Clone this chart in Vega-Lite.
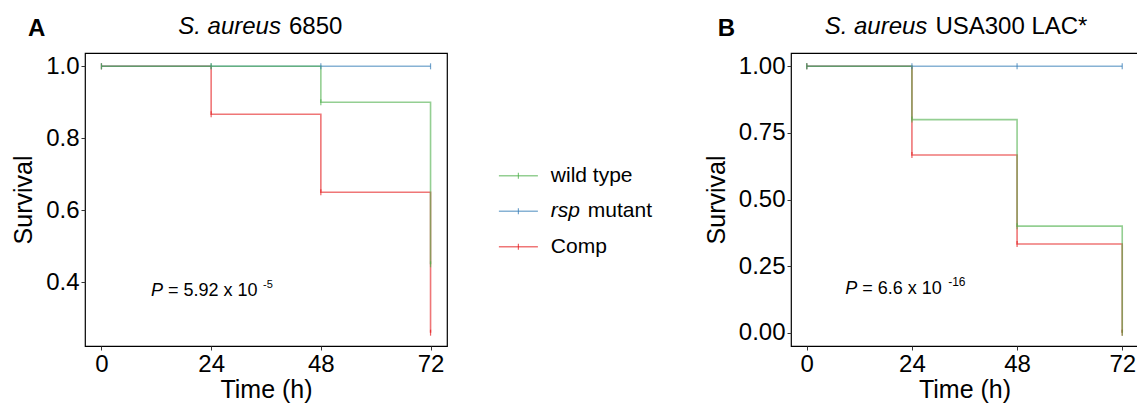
{
  "$schema": "https://vega.github.io/schema/vega-lite/v6.json",
  "padding": {"left": 11, "top": 14, "right": 0, "bottom": 0},
  "spacing": 10,
  "config": {
    "font": "Liberation Sans",
    "view": {"stroke": "#000", "strokeWidth": 1.2},
    "axis": {"grid": false, "domain": false, "tickColor": "#333", "tickSize": 4, "labelFontSize": 24, "labelColor": "#000", "titleFontSize": 25, "titleFontWeight": "normal", "titleColor": "#000", "labelPadding": 2}
  },
  "datasets": {
    "km": [
      {"panel": "A", "series": "Comp", "time": 0, "survival": 1},
      {"panel": "A", "series": "Comp", "time": 24, "survival": 0.867},
      {"panel": "A", "series": "Comp", "time": 48, "survival": 0.65},
      {"panel": "A", "series": "Comp", "time": 72, "survival": 0.26},
      {"panel": "A", "series": "rsp mutant", "time": 0, "survival": 1},
      {"panel": "A", "series": "rsp mutant", "time": 24, "survival": 1},
      {"panel": "A", "series": "rsp mutant", "time": 48, "survival": 1},
      {"panel": "A", "series": "rsp mutant", "time": 72, "survival": 1},
      {"panel": "A", "series": "wild type", "time": 0, "survival": 1},
      {"panel": "A", "series": "wild type", "time": 24, "survival": 1},
      {"panel": "A", "series": "wild type", "time": 48, "survival": 0.9},
      {"panel": "A", "series": "wild type", "time": 72, "survival": 0.45},
      {"panel": "B", "series": "Comp", "time": 0, "survival": 1},
      {"panel": "B", "series": "Comp", "time": 24, "survival": 0.667},
      {"panel": "B", "series": "Comp", "time": 48, "survival": 0.333},
      {"panel": "B", "series": "Comp", "time": 72, "survival": 0},
      {"panel": "B", "series": "rsp mutant", "time": 0, "survival": 1},
      {"panel": "B", "series": "rsp mutant", "time": 24, "survival": 1},
      {"panel": "B", "series": "rsp mutant", "time": 48, "survival": 1},
      {"panel": "B", "series": "rsp mutant", "time": 72, "survival": 1},
      {"panel": "B", "series": "wild type", "time": 0, "survival": 1},
      {"panel": "B", "series": "wild type", "time": 24, "survival": 0.8},
      {"panel": "B", "series": "wild type", "time": 48, "survival": 0.4},
      {"panel": "B", "series": "wild type", "time": 72, "survival": 0}
    ],
    "legend": [
      {"series": "wild type", "italic": "", "plain": "wild type"},
      {"series": "rsp mutant", "italic": "rsp", "plain": "mutant"},
      {"series": "Comp", "italic": "", "plain": "Comp"}
    ]
  },
  "hconcat": [
    {
      "width": 362,
      "height": 293,
      "data": {"name": "km"},
      "transform": [{"filter": "datum.panel === 'A'"}],
      "layer": [
        {
          "mark": {"type": "line", "interpolate": "step-after", "strokeWidth": 1.6, "opacity": 0.6},
          "encoding": {
            "x": {"field": "time", "type": "quantitative", "scale": {"domain": [-3.6, 75.6], "nice": false, "zero": false}, "axis": {"values": [0, 24, 48, 72], "title": "Time (h)", "titlePadding": 1}},
            "y": {"field": "survival", "type": "quantitative", "scale": {"domain": [0.223, 1.037], "nice": false, "zero": false}, "axis": {"values": [0.4, 0.6, 0.8, 1.0], "format": ".1f", "title": "Survival", "titlePadding": 9}},
            "color": {"field": "series", "type": "nominal", "scale": {"domain": ["wild type", "rsp mutant", "Comp"], "range": ["#4daf4a", "#377eb8", "#e41a1c"]}, "legend": null}
          }
        },
        {
          "mark": {"type": "tick", "orient": "vertical", "size": 6, "thickness": 1.2},
          "encoding": {
            "x": {"field": "time", "type": "quantitative"},
            "y": {"field": "survival", "type": "quantitative"},
            "color": {"field": "series", "type": "nominal", "legend": null}
          }
        },
        {
          "data": {"values": [{"t": "A"}]},
          "mark": {"type": "text", "align": "left", "baseline": "alphabetic", "fontSize": 24, "fontWeight": "bold", "clip": false},
          "encoding": {"x": {"datum": -16.07, "type": "quantitative"}, "y": {"datum": 1.085, "type": "quantitative"}, "text": {"field": "t"}}
        },
        {
          "data": {"values": [{"t": "S. aureus"}]},
          "mark": {"type": "text", "align": "right", "baseline": "alphabetic", "fontSize": 24, "fontStyle": "italic", "dx": -4, "clip": false},
          "encoding": {"x": {"datum": 40.15, "type": "quantitative"}, "y": {"datum": 1.0906, "type": "quantitative"}, "text": {"field": "t"}}
        },
        {
          "data": {"values": [{"t": "6850"}]},
          "mark": {"type": "text", "align": "left", "baseline": "alphabetic", "fontSize": 24, "dx": 4, "clip": false},
          "encoding": {"x": {"datum": 40.15, "type": "quantitative"}, "y": {"datum": 1.0906, "type": "quantitative"}, "text": {"field": "t"}}
        },
        {
          "data": {"values": [{"t": "P"}]},
          "mark": {"type": "text", "align": "left", "baseline": "alphabetic", "fontSize": 18, "fontStyle": "italic"},
          "encoding": {"x": {"datum": 10.84, "type": "quantitative"}, "y": {"datum": 0.3628, "type": "quantitative"}, "text": {"field": "t"}}
        },
        {
          "data": {"values": [{"t": "= 5.92 x 10"}]},
          "mark": {"type": "text", "align": "left", "baseline": "alphabetic", "fontSize": 18, "dx": 17},
          "encoding": {"x": {"datum": 10.84, "type": "quantitative"}, "y": {"datum": 0.3628, "type": "quantitative"}, "text": {"field": "t"}}
        },
        {
          "data": {"values": [{"t": "-5"}]},
          "mark": {"type": "text", "align": "left", "baseline": "alphabetic", "fontSize": 11, "dx": 112, "dy": -8},
          "encoding": {"x": {"datum": 10.84, "type": "quantitative"}, "y": {"datum": 0.3628, "type": "quantitative"}, "text": {"field": "t"}}
        }
      ]
    },
    {
      "width": 235,
      "height": 293,
      "view": {"stroke": null},
      "data": {"name": "legend"},
      "encoding": {
        "y": {"field": "series", "type": "nominal", "scale": {"type": "point", "domain": ["wild type", "rsp mutant", "Comp"], "range": [122.7, 193.7], "padding": 0}, "axis": null}
      },
      "layer": [
        {
          "mark": {"type": "rule", "strokeWidth": 1.6, "opacity": 0.6},
          "encoding": {
            "x": {"datum": 0.174, "type": "quantitative", "scale": {"domain": [0, 1], "nice": false, "zero": false}, "axis": null},
            "x2": {"datum": 0.34},
            "color": {"field": "series", "type": "nominal", "scale": {"domain": ["wild type", "rsp mutant", "Comp"], "range": ["#4daf4a", "#377eb8", "#e41a1c"]}, "legend": null}
          }
        },
        {
          "mark": {"type": "tick", "orient": "vertical", "size": 6, "thickness": 1.2},
          "encoding": {
            "x": {"datum": 0.257, "type": "quantitative"},
            "color": {"field": "series", "type": "nominal", "legend": null}
          }
        },
        {
          "mark": {"type": "text", "align": "left", "baseline": "middle", "fontSize": 21, "fontStyle": "italic"},
          "encoding": {"x": {"datum": 0.395, "type": "quantitative"}, "text": {"field": "italic"}}
        },
        {
          "transform": [{"filter": "datum.italic === ''"}],
          "mark": {"type": "text", "align": "left", "baseline": "middle", "fontSize": 21},
          "encoding": {"x": {"datum": 0.395, "type": "quantitative"}, "text": {"field": "plain"}}
        },
        {
          "transform": [{"filter": "datum.italic !== ''"}],
          "mark": {"type": "text", "align": "left", "baseline": "middle", "fontSize": 21, "dx": 37},
          "encoding": {"x": {"datum": 0.395, "type": "quantitative"}, "text": {"field": "plain"}}
        }
      ]
    },
    {
      "width": 347,
      "height": 293,
      "data": {"name": "km"},
      "transform": [{"filter": "datum.panel === 'B'"}],
      "layer": [
        {
          "mark": {"type": "line", "interpolate": "step-after", "strokeWidth": 1.6, "opacity": 0.6},
          "encoding": {
            "x": {"field": "time", "type": "quantitative", "scale": {"domain": [-3.6, 75.6], "nice": false, "zero": false}, "axis": {"values": [0, 24, 48, 72], "title": "Time (h)", "titlePadding": 1}},
            "y": {"field": "survival", "type": "quantitative", "scale": {"domain": [-0.05, 1.05], "nice": false, "zero": false}, "axis": {"values": [0, 0.25, 0.5, 0.75, 1.0], "format": ".2f", "title": "Survival", "titlePadding": 9}},
            "color": {"field": "series", "type": "nominal", "scale": {"domain": ["wild type", "rsp mutant", "Comp"], "range": ["#4daf4a", "#377eb8", "#e41a1c"]}, "legend": null}
          }
        },
        {
          "mark": {"type": "tick", "orient": "vertical", "size": 6, "thickness": 1.2},
          "encoding": {
            "x": {"field": "time", "type": "quantitative"},
            "y": {"field": "survival", "type": "quantitative"},
            "color": {"field": "series", "type": "nominal", "legend": null}
          }
        },
        {
          "data": {"values": [{"t": "B"}]},
          "mark": {"type": "text", "align": "left", "baseline": "alphabetic", "fontSize": 24, "fontWeight": "bold", "clip": false},
          "encoding": {"x": {"datum": -20.3, "type": "quantitative"}, "y": {"datum": 1.115, "type": "quantitative"}, "text": {"field": "t"}}
        },
        {
          "data": {"values": [{"t": "S. aureus"}]},
          "mark": {"type": "text", "align": "right", "baseline": "alphabetic", "fontSize": 24, "fontStyle": "italic", "dx": -4, "clip": false},
          "encoding": {"x": {"datum": 28.44, "type": "quantitative"}, "y": {"datum": 1.1225, "type": "quantitative"}, "text": {"field": "t"}}
        },
        {
          "data": {"values": [{"t": "USA300 LAC*"}]},
          "mark": {"type": "text", "align": "left", "baseline": "alphabetic", "fontSize": 24, "dx": 4, "clip": false},
          "encoding": {"x": {"datum": 28.44, "type": "quantitative"}, "y": {"datum": 1.1225, "type": "quantitative"}, "text": {"field": "t"}}
        },
        {
          "data": {"values": [{"t": "P"}]},
          "mark": {"type": "text", "align": "left", "baseline": "alphabetic", "fontSize": 18, "fontStyle": "italic"},
          "encoding": {"x": {"datum": 8.76, "type": "quantitative"}, "y": {"datum": 0.1465, "type": "quantitative"}, "text": {"field": "t"}}
        },
        {
          "data": {"values": [{"t": "= 6.6 x 10"}]},
          "mark": {"type": "text", "align": "left", "baseline": "alphabetic", "fontSize": 18, "dx": 17},
          "encoding": {"x": {"datum": 8.76, "type": "quantitative"}, "y": {"datum": 0.1465, "type": "quantitative"}, "text": {"field": "t"}}
        },
        {
          "data": {"values": [{"t": "-16"}]},
          "mark": {"type": "text", "align": "left", "baseline": "alphabetic", "fontSize": 12, "dx": 103, "dy": -8},
          "encoding": {"x": {"datum": 8.76, "type": "quantitative"}, "y": {"datum": 0.1465, "type": "quantitative"}, "text": {"field": "t"}}
        }
      ]
    }
  ]
}
